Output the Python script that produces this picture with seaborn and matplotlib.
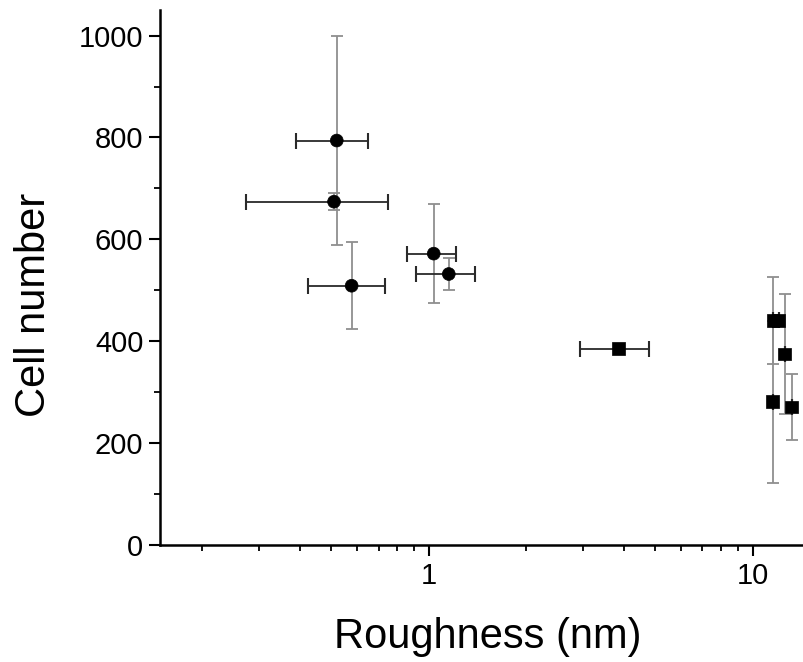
import matplotlib
matplotlib.use("Agg")
import matplotlib.pyplot as plt
import matplotlib.ticker as mticker
import numpy as np
import pandas as pd
import seaborn as sns

# Surface roughness (nm) and adhered cell counts, with standard deviations
roughness = [0.52, 0.51, 0.578, 1.036, 1.153, 3.86, 11.55, 12.05, 12.56, 11.53, 13.19]
roughness_err = [0.13, 0.237, 0.153, 0.18, 0.24, 0.92, 0.0, 0.0, 0.0, 0.0, 0.0]
cell_number = [794, 674, 509, 572, 532, 385, 441, 441, 375, 281, 271]
cell_err = [206, 17, 85, 97, 32, 0, 85, 0, 118, 159, 65]
substrate = ["smooth"] * 5 + ["rough"] * 6

df = pd.DataFrame({
    "roughness": roughness,
    "roughness_err": roughness_err,
    "cells": cell_number,
    "cells_err": cell_err,
    "substrate": substrate,
})

sns.set_theme(style="ticks")
plt.rcParams["font.family"] = ["Liberation Sans", "DejaVu Sans"]
plt.rcParams["text.color"] = "black"
plt.rcParams["axes.labelcolor"] = "black"
plt.rcParams["xtick.color"] = "black"
plt.rcParams["ytick.color"] = "black"

fig = plt.figure(figsize=(8.04, 6.62), dpi=100)
ax = fig.add_axes([0.199, 0.1767, 0.7985, 0.808])

# vertical (cell count) error bars in grey, horizontal (roughness) in dark
ax.errorbar(df["roughness"], df["cells"], yerr=df["cells_err"], fmt="none",
            ecolor="#8f8f8f", elinewidth=1.3, capsize=4.5, capthick=1.3, zorder=2)
ax.errorbar(df["roughness"], df["cells"], xerr=df["roughness_err"], fmt="none",
            ecolor="#2a2a2a", elinewidth=1.3, capsize=5.5, capthick=1.5, zorder=2)

sns.scatterplot(data=df, x="roughness", y="cells", style="substrate",
                markers={"smooth": "o", "rough": "s"}, color="black",
                s=85, edgecolor="black", linewidth=0.5, legend=False,
                ax=ax, zorder=3)

ax.set_xscale("log")
ax.set_xlim(0.148, 14.2)
ax.set_ylim(0, 1050)

ax.yaxis.set_major_locator(mticker.MultipleLocator(200))
ax.yaxis.set_minor_locator(mticker.MultipleLocator(100))
ax.xaxis.set_major_locator(mticker.LogLocator(base=10, numticks=10))
ax.xaxis.set_minor_locator(mticker.LogLocator(base=10, subs=np.arange(2, 10), numticks=20))
ax.xaxis.set_major_formatter(mticker.FuncFormatter(lambda v, p: f"{v:g}"))
ax.xaxis.set_minor_formatter(mticker.NullFormatter())

ax.tick_params(axis="both", which="major", direction="out", length=8, width=1.5,
               labelsize=21, color="black", labelcolor="black", pad=4)
ax.tick_params(axis="both", which="minor", direction="out", length=4, width=1.3,
               color="black")

for side in ("top", "right"):
    ax.spines[side].set_visible(False)
for side in ("left", "bottom"):
    ax.spines[side].set_linewidth(1.8)
    ax.spines[side].set_color("black")

ax.set_xlabel("Roughness (nm)", fontsize=30, color="black")
ax.set_ylabel("Cell number", fontsize=30, color="black")
ax.xaxis.set_label_coords(0.51, -0.135)
ax.yaxis.set_label_coords(-0.165, 0.449)

fig.savefig("out.png", dpi=100, facecolor="white")
